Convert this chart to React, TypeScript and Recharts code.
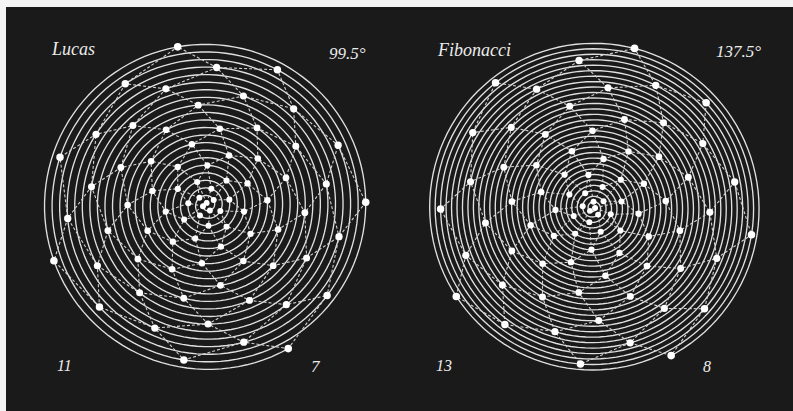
import React from "react";
import { Scatter, ScatterChart, XAxis, YAxis } from "recharts";

// values
const titles = ["Lucas", "Fibonacci"];
const angleLabels = ["99.5°", "137.5°"];
const divergenceAngles = [99.5, 137.5];
const leafCounts = [79, 80];
const parastichyPairs = [
  [11, 7],
  [13, 8],
];
const lastLeafAngles = [299.5, 297.9];
const turnDirections = [1, -1];
const outerRadii = [165, 167];

type Pt = { x: number; y: number; n: number };

function buildFigure(i: number) {
  const div = divergenceAngles[i];
  const N = leafCounts[i];
  const R = outerRadii[i];
  const dir = turnDirections[i];
  const last = lastLeafAngles[i];

  const polar = (n: number): Pt => {
    const a = ((last + dir * (n - N) * div) * Math.PI) / 180;
    const r = (R * n) / N;
    return { x: r * Math.cos(a), y: r * Math.sin(a), n };
  };

  const leaves: Pt[] = [];
  for (let n = 1; n <= N; n++) leaves.push(polar(n));

  // the generative spiral the leaves sit on
  const spiral: Pt[] = [];
  const total = N * div;
  for (let t = 0; t <= total; t += 3) spiral.push(polar(t / div));
  spiral.push(polar(N));

  const chains: Pt[][] = [];
  parastichyPairs[i].forEach((m) => {
    for (let s = 1; s <= m; s++) {
      const chain: Pt[] = [];
      for (let n = s; n <= N; n += m) chain.push(leaves[n - 1]);
      chains.push(chain);
    }
  });

  return { leaves, spiral, chains, N };
}

const noShape = () => <g />;

function Phyllotaxis({ index }: { index: number }) {
  const fig = buildFigure(index);
  const leafShape = (props: any) => {
    const { cx, cy, payload } = props;
    const r = 2.9 + (0.9 * payload.n) / fig.N;
    return <circle cx={cx} cy={cy} r={r} fill="#ffffff" />;
  };
  return (
    <ScatterChart
      width={380}
      height={380}
      margin={{ top: 0, right: 0, bottom: 0, left: 0 }}
    >
      <XAxis type="number" dataKey="x" domain={[-190, 190]} hide />
      <YAxis type="number" dataKey="y" domain={[-190, 190]} hide />
      <Scatter
        data={fig.spiral}
        line={{ stroke: "#e0e0e0", strokeWidth: 1.35 }}
        lineType="joint"
        shape={noShape}
        isAnimationActive={false}
      />
      {fig.chains.map((c, k) => (
        <Scatter
          key={k}
          data={c}
          line={{ stroke: "#d0d0d0", strokeWidth: 1.1, strokeDasharray: "3 2" }}
          lineType="joint"
          shape={noShape}
          isAnimationActive={false}
        />
      ))}
      <Scatter data={fig.leaves} shape={leafShape} isAnimationActive={false} />
    </ScatterChart>
  );
}

const textStyle: React.CSSProperties = {
  position: "absolute",
  fontFamily: "'Liberation Serif', serif",
  fontStyle: "italic",
  color: "#ececec",
  lineHeight: 1,
  whiteSpace: "nowrap",
};

export default function App() {
  return (
    <div
      style={{
        position: "absolute",
        left: 0,
        top: 0,
        width: 793,
        height: 411,
        background: "#f4f4f4",
        overflow: "hidden",
      }}
    >
      <div
        style={{
          position: "absolute",
          left: 6,
          top: 7,
          width: 787,
          height: 404,
          background: "#1a1a1a",
        }}
      />
      <div style={{ position: "absolute", left: 17, top: 15 }}>
        <Phyllotaxis index={0} />
      </div>
      <div style={{ position: "absolute", left: 403, top: 18 }}>
        <Phyllotaxis index={1} />
      </div>

      <span style={{ ...textStyle, left: 52, top: 40, fontSize: 18 }}>{titles[0]}</span>
      <span style={{ ...textStyle, left: 329, top: 45, fontSize: 17 }}>{angleLabels[0]}</span>
      <span style={{ ...textStyle, left: 57, top: 358, fontSize: 16 }}>{parastichyPairs[0][0]}</span>
      <span style={{ ...textStyle, left: 311, top: 358, fontSize: 17 }}>{parastichyPairs[0][1]}</span>

      <span style={{ ...textStyle, left: 438, top: 41, fontSize: 18 }}>{titles[1]}</span>
      <span style={{ ...textStyle, left: 716, top: 43, fontSize: 17 }}>{angleLabels[1]}</span>
      <span style={{ ...textStyle, left: 436, top: 358, fontSize: 16 }}>{parastichyPairs[1][0]}</span>
      <span style={{ ...textStyle, left: 703, top: 359, fontSize: 16 }}>{parastichyPairs[1][1]}</span>
    </div>
  );
}
